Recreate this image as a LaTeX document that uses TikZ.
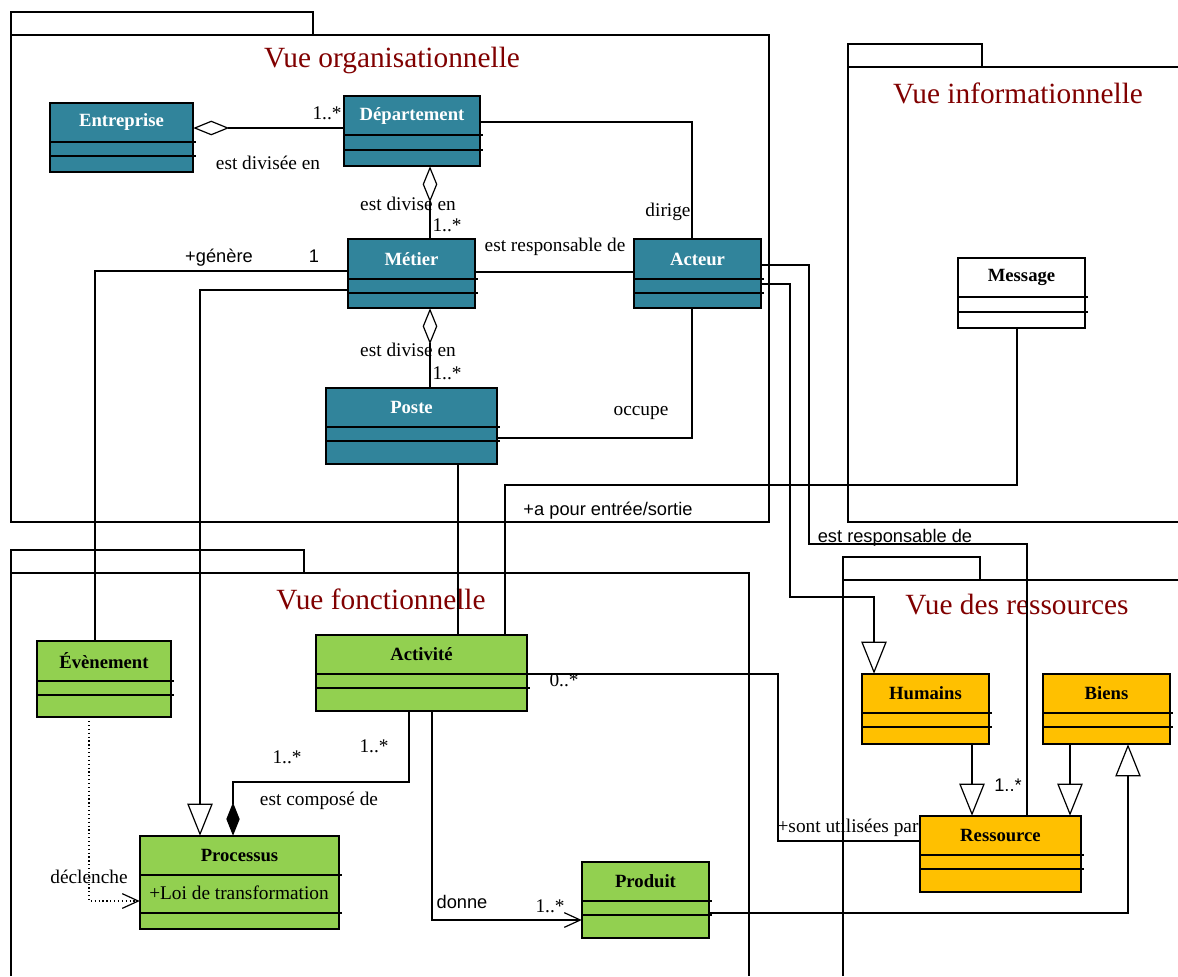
\documentclass[tikz,border=0pt]{standalone}
\usepackage{fontspec}
\setmainfont{Liberation Serif}
\setsansfont{Liberation Sans}
\usetikzlibrary{arrows.meta,fit,calc}
\definecolor{cteal}{RGB}{49,132,155}
\definecolor{cgreen}{RGB}{146,208,80}
\definecolor{cyellow}{RGB}{255,192,0}
\definecolor{pkgred}{RGB}{128,0,0}
\tikzset{
  box/.style={draw, line width=1pt, inner sep=0pt},
  orgc/.style={fill=cteal, text=white},
  fonc/.style={fill=cgreen, text=black},
  resc/.style={fill=cyellow, text=black},
  infc/.style={fill=white, text=black},
  ttl/.style={font=\bfseries\fontsize{14}{16}\selectfont, inner sep=0pt},
  lbl/.style={font=\fontsize{14.5}{16}\selectfont, inner sep=0pt},
  slbl/.style={font=\sffamily\fontsize{13.7}{16}\selectfont, inner sep=0pt},
  pkgt/.style={font=\fontsize{22}{26}\selectfont, text=pkgred, inner sep=0pt},
  pkg/.style={line width=1pt},
  conn/.style={line width=0.9pt},
  odia/.style={{Diamond[open,length=27pt,width=11pt]}-},
  fdia/.style={-{Diamond[length=25pt,width=10pt]}},
  gen/.style={-{Triangle[open,length=24pt,width=19pt]}},
  barb/.style={-{Straight Barb[length=12pt,width=11pt,sep=0pt]}},
}
\newcommand\umlcls[9]{%
  \path (#2,#3) coordinate (#1-a) (#4,#5) coordinate (#1-b);
  \node[box, #8, fit=(#1-a)(#1-b)] (#1) {};
  \draw[line width=1pt] (#2,#6) -- ({#4+3},#6);
  \draw[line width=1pt] (#2,#7) -- ({#4+3},#7);
  \node[ttl, #8] (#1-t) at ({(#2+#4)/2},{(#3+#6)/2}) {#9};
}
\begin{document}
\begin{tikzpicture}[x=0.75pt,y=-0.75pt]
\useasboundingbox (0,0) rectangle (1178,976);
% ---------- packages ----------
\draw[pkg] (11,12) rectangle (313,35);
\draw[pkg] (11,35) rectangle (769,522);
\node[pkgt] (torg) at (392,60) {Vue organisationnelle};
\draw[pkg] (848,44) rectangle (982,67);
\draw[pkg] (1178,67) -- (848,67) -- (848,522) -- (1178,522);
\node[pkgt] (tinf) at (1018,93) {Vue informationnelle};
\draw[pkg] (11,550) rectangle (304,573);
\draw[pkg] (11,976) -- (11,573) -- (749,573) -- (749,976);
\node[pkgt] (tfon) at (381,599) {Vue fonctionnelle};
\draw[pkg] (843,557) rectangle (980,580);
\draw[pkg] (843,976) -- (843,580) -- (1178,580);
\node[pkgt] (tres) at (1017,605) {Vue des ressources};
% ---------- node anchors for connectors ----------
\path (50,103) coordinate (ent-a) (193,172) coordinate (ent-b);
\node[inner sep=0, fit=(ent-a)(ent-b)] (ent) {};
\path (344,96) coordinate (dep-a) (480,166) coordinate (dep-b);
\node[inner sep=0, fit=(dep-a)(dep-b)] (dep) {};
\path (348,239) coordinate (met-a) (475,308) coordinate (met-b);
\node[inner sep=0, fit=(met-a)(met-b)] (met) {};
\path (634,239) coordinate (act-a) (761,308) coordinate (act-b);
\node[inner sep=0, fit=(act-a)(act-b)] (act) {};
\path (326,388) coordinate (pos-a) (497,464) coordinate (pos-b);
\node[inner sep=0, fit=(pos-a)(pos-b)] (pos) {};
\path (958,258) coordinate (msg-a) (1085,328) coordinate (msg-b);
\node[inner sep=0, fit=(msg-a)(msg-b)] (msg) {};
\path (37,641) coordinate (eve-a) (171,717) coordinate (eve-b);
\node[inner sep=0, fit=(eve-a)(eve-b)] (eve) {};
\path (316,635) coordinate (actv-a) (527,711) coordinate (actv-b);
\node[inner sep=0, fit=(actv-a)(actv-b)] (actv) {};
\path (140,836) coordinate (proc-a) (339,929) coordinate (proc-b);
\node[inner sep=0, fit=(proc-a)(proc-b)] (proc) {};
\path (582,862) coordinate (prod-a) (709,938) coordinate (prod-b);
\node[inner sep=0, fit=(prod-a)(prod-b)] (prod) {};
\path (862,674) coordinate (hum-a) (989,744) coordinate (hum-b);
\node[inner sep=0, fit=(hum-a)(hum-b)] (hum) {};
\path (1043,674) coordinate (bie-a) (1170,744) coordinate (bie-b);
\node[inner sep=0, fit=(bie-a)(bie-b)] (bie) {};
\path (920,816) coordinate (res-a) (1081,892) coordinate (res-b);
\node[inner sep=0, fit=(res-a)(res-b)] (res) {};
% ---------- connectors ----------
\draw[conn, odia] (ent.east |- 0,128) -- (dep.west |- 0,128);
\draw[conn, odia] (dep.south -| 430,0) -- (met.north -| 430,0);
\draw[conn, odia] (met.south -| 430,0) -- (pos.north -| 430,0);
\draw[conn] (dep.east |- 0,122) -| (act.north -| 692,0);
\draw[conn] (met.east |- 0,272) -- (act.west |- 0,272);
\draw[conn] (pos.east |- 0,438) -| (act.south -| 692,0);
\draw[conn] (met.west |- 0,271) -| (eve.north -| 95,0);
\draw[conn, gen] (met.west |- 0,290) -| (proc.north -| 200,0);
\draw[conn] (pos.south -| 458,0) -- (actv.north -| 458,0);
\draw[conn] (actv.north -| 505,0) -- (505,485) -| (msg.south -| 1017,0);
\draw[conn] (act.east |- 0,265) -| (809,544) -| (res.north -| 1027,0);
\draw[conn, gen] (act.east |- 0,284) -| (790,597) -| (hum.north -| 874,0);
\draw[conn, gen] (hum.south -| 972,0) -- (res.north -| 972,0);
\draw[conn, gen] (bie.south -| 1070,0) -- (res.north -| 1070,0);
\draw[conn, gen] (prod.east |- 0,913) -| (bie.south -| 1128,0);
\draw[conn] (actv.east |- 0,674) -| (778,841) -- (res.west |- 0,841);
\draw[conn, fdia] (actv.south -| 409,0) |- (233,782) -- (proc.north -| 233,0);
\draw[conn, barb] (actv.south -| 432,0) |- (prod.west |- 0,920);
\draw[conn, dotted] (eve.south -| 89,0) |- (proc.west |- 0,901);
\draw[conn, barb] ($(proc.west |- 0,901)+(-4,0)$) -- (proc.west |- 0,901);
% ---------- classes ----------
\umlcls{cent}{50}{103}{193}{172}{142}{156}{orgc}{Entreprise}
\umlcls{cdep}{344}{96}{480}{166}{135}{150}{orgc}{Département}
\umlcls{cmet}{348}{239}{475}{308}{279}{293}{orgc}{Métier}
\umlcls{cact}{634}{239}{761}{308}{279}{293}{orgc}{Acteur}
\umlcls{cpos}{326}{388}{497}{464}{427}{441}{orgc}{Poste}
\umlcls{cmsg}{958}{258}{1085}{328}{297}{312}{infc}{Message}
\umlcls{ceve}{37}{641}{171}{717}{681}{695}{fonc}{Évènement}
\umlcls{cactv}{316}{635}{527}{711}{674}{688}{fonc}{Activité}
\umlcls{cproc}{140}{836}{339}{929}{875}{913}{fonc}{Processus}
\umlcls{cprod}{582}{862}{709}{938}{901}{915}{fonc}{Produit}
\umlcls{chum}{862}{674}{989}{744}{713}{727}{resc}{Humains}
\umlcls{cbie}{1043}{674}{1170}{744}{713}{727}{resc}{Biens}
\umlcls{cres}{920}{816}{1081}{892}{855}{869}{resc}{Ressource}
\node[lbl] (attr) at (239,893) {+Loi de transformation};
% ---------- labels ----------
\node[lbl] (l1) at (327,113) {1..*};
\node[lbl] (l2) at (268,163) {est divisée en};
\node[lbl] (l3) at (408,204) {est divise en};
\node[lbl] (l4) at (447,225) {1..*};
\node[lbl] (l5) at (668,212) {dirige};
\node[lbl] (l6) at (555,247) {est responsable de};
\node[slbl] (l7) at (314,256) {1};
\node[slbl] (l8) at (219,258) {+génère};
\node[lbl] (l9) at (408,350) {est divise en};
\node[lbl] (l10) at (447,373) {1..*};
\node[lbl] (l11) at (641,413) {occupe};
\node[slbl] (l12) at (608,511) {+a pour entrée/sortie};
\node[slbl] (l13) at (895,538) {est responsable de};
\node[lbl] (l14) at (564,680) {0..*};
\node[lbl] (l15) at (287,757) {1..*};
\node[lbl] (l16) at (374,746) {1..*};
\node[lbl] (l17) at (319,801) {est composé de};
\node[slbl] (l18) at (1008,785) {1..*};
\node[lbl] (l19) at (848,828) {+sont utilisées par};
\node[lbl] (l20) at (89,877) {déclenche};
\node[slbl] (l21) at (462,902) {donne};
\node[lbl] (l22) at (550,906) {1..*};
\end{tikzpicture}
\end{document}
